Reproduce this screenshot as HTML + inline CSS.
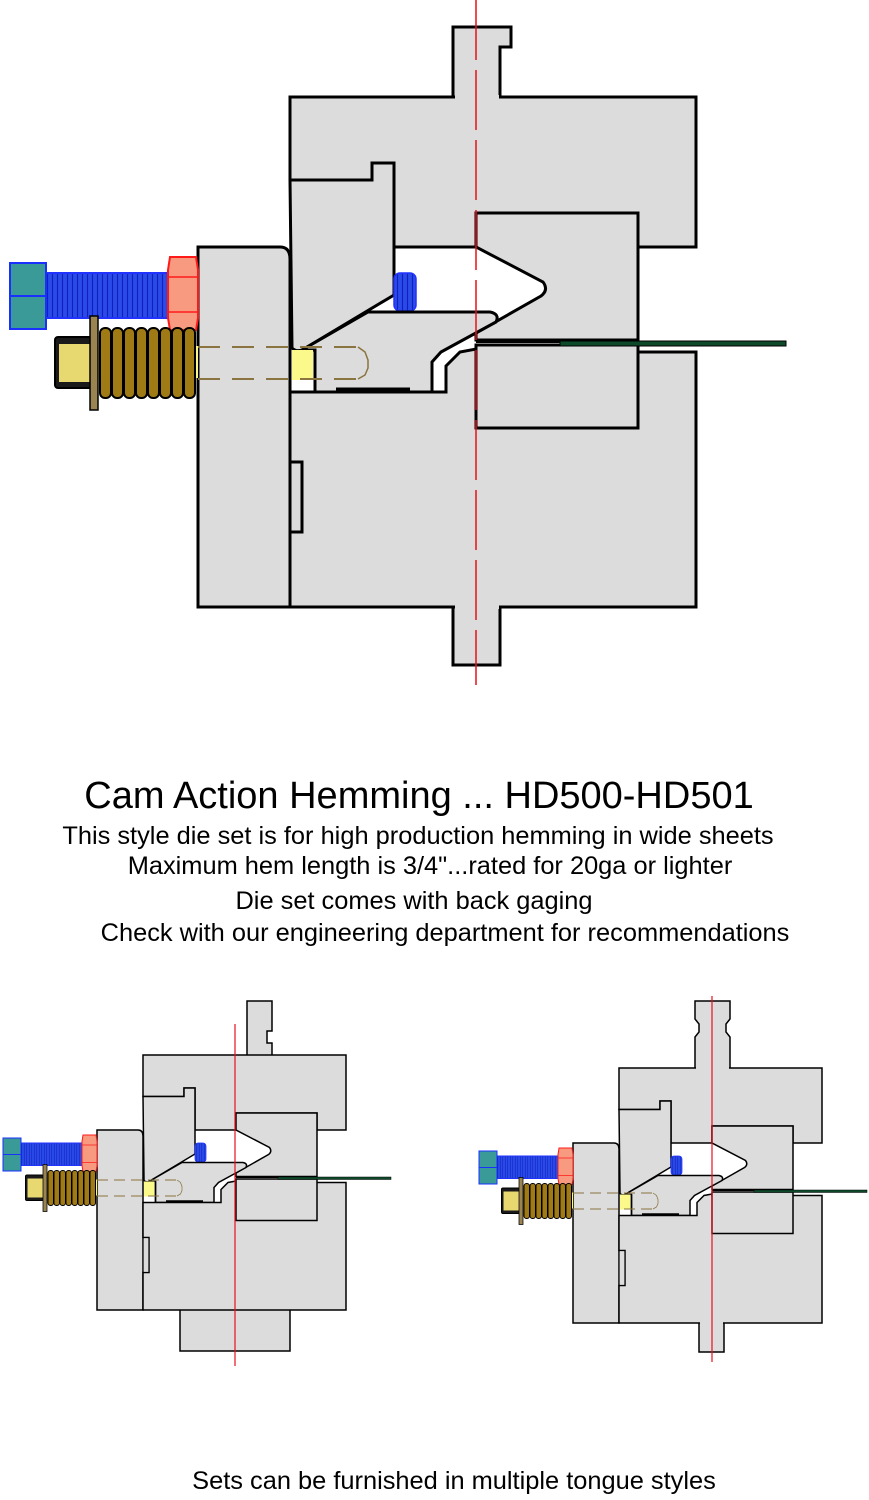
<!DOCTYPE html>
<html><head><meta charset="utf-8"><style>
body{margin:0;background:#fff;}
svg{display:block}
text{font-family:"Liberation Sans",Arial,sans-serif;fill:#000}
</style></head><body>
<svg width="869" height="1500" viewBox="0 0 869 1500" xmlns="http://www.w3.org/2000/svg">
<defs>
<pattern id="thr" width="5" height="60" patternUnits="userSpaceOnUse">
<rect width="5" height="60" fill="#2a4be8"/>
<line x1="2.5" y1="0" x2="2.5" y2="60" stroke="#1020c0" stroke-width="1.2"/>
</pattern>
<g id="die" stroke="#000" stroke-width="3" stroke-linejoin="miter">
<path d="M198,247 L280,247 Q290,247 290,259 L290,607 L198,607 Z" fill="#dcdcdc"/>
<path d="M290,97 L696,97 L696,247 L638,247 L638,213 L476,213 L476,247 L394,247 L394,163 L372,163 L372,180 L290,180 Z" fill="#dcdcdc"/>
<path d="M290,180 L372,180 L372,163 L394,163 L394,295 L302,350 Q296,352 292,348 L290,180 Z" fill="#dcdcdc"/>
<rect x="394" y="273" width="22" height="38" rx="6" fill="url(#thr)" stroke="#2233ff" stroke-width="1.5"/>
<path d="M476,213 L638,213 L638,340 L476,340 L476,333 L541,296 Q549,290 543,282 L476,247 Z" fill="#dcdcdc"/>
<path d="M368,312 L490,312 Q500,314 496,322 L441,352 L432,362 L432,392 L315,392 L315,350 L302,350 Z" fill="#dcdcdc"/>
<path d="M290,392 L446,392 L446,366 L460,352 L476,349 L476,352 L638,352 L696,352 L696,607 L290,607 L290,532 L302,532 L302,462 L290,462 Z" fill="#dcdcdc"/>
<rect x="291.5" y="463.5" width="9" height="67" fill="#dcdcdc" stroke="none"/>
<rect x="476" y="345" width="162" height="83" fill="#dcdcdc"/>
<rect x="292" y="350" width="21" height="30" fill="#fbf98a" stroke="none"/>
<line x1="315" y1="350" x2="315" y2="392" stroke-width="3"/>
<line x1="336" y1="390" x2="410" y2="390" stroke-width="5"/>
<line x1="476" y1="342" x2="560" y2="342" stroke-width="2"/>
<rect x="560" y="341" width="226" height="5" fill="#0d4a2a" stroke="#000" stroke-width="1"/>
<rect x="46" y="273" width="122" height="45" fill="url(#thr)" stroke="#2233ff" stroke-width="2"/>
<path d="M10,263 L46,263 L46,329 L10,329 Z" fill="#3a9a98" stroke="#1a30ff" stroke-width="2"/>
<line x1="10" y1="296" x2="46" y2="296" stroke="#1a30ff" stroke-width="2"/>
<path d="M170,257 L196,257 L198,270 L198,318 L196,330 L170,330 L168,318 L168,270 Z" fill="#f89a80" stroke="#ff1a1a" stroke-width="2"/>
<line x1="168" y1="277" x2="198" y2="277" stroke="#ff1a1a" stroke-width="1.5"/>
<line x1="168" y1="312" x2="198" y2="312" stroke="#ff1a1a" stroke-width="1.5"/>
<rect x="55" y="337" width="37" height="51" rx="3" fill="#1a1a1a" stroke="#000" stroke-width="2"/>
<rect x="59" y="344" width="33" height="38" fill="#e8d870" stroke="none"/>
<rect x="92" y="346" width="106" height="32" fill="#fbf98a" stroke="none"/>
<g fill="#a07a14" stroke="#000" stroke-width="2">
<rect x="100" y="328" width="11" height="70" rx="5"/>
<rect x="112" y="328" width="11" height="70" rx="5"/>
<rect x="124" y="328" width="11" height="70" rx="5"/>
<rect x="136" y="328" width="11" height="70" rx="5"/>
<rect x="148" y="328" width="11" height="70" rx="5"/>
<rect x="160" y="328" width="11" height="70" rx="5"/>
<rect x="172" y="328" width="11" height="70" rx="5"/>
<rect x="184" y="328" width="11" height="70" rx="5"/>
</g>
<rect x="90" y="316" width="8" height="94" fill="#9a8450" stroke="#000" stroke-width="1.5"/>
<g stroke="#8a7440" stroke-width="2" fill="none" stroke-dasharray="22 12">
<line x1="198" y1="347" x2="360" y2="347"/>
<line x1="198" y1="379" x2="360" y2="379"/>
</g>
<path d="M358,347 L365,352 L368,360 L368,368 L365,375 L358,379" stroke="#8a7440" stroke-width="1.5" fill="none"/>
</g>
</defs>

<path d="M453,30 L453,27 L511,27 L511,47 L500,47 L500,110 L453,110 Z" fill="#dcdcdc" stroke="#000" stroke-width="3"/>
<path d="M453,590 L500,590 L500,665 L453,665 Z" fill="#dcdcdc" stroke="#000" stroke-width="3"/>
<use href="#die"/>
<rect x="455" y="95" width="44" height="5" fill="#dcdcdc"/>
<rect x="455" y="604" width="44" height="5" fill="#dcdcdc"/>
<line x1="476" y1="0" x2="476" y2="685" stroke="#e8101a" stroke-width="1.5" stroke-dasharray="60 10"/>

<text x="419" y="808" font-size="38" text-anchor="middle">Cam Action Hemming ... HD500-HD501</text>
<text x="418" y="844" font-size="25.4" text-anchor="middle">This style die set is for high production hemming in wide sheets</text>
<text x="430" y="874" font-size="25.4" text-anchor="middle">Maximum hem length is 3/4"...rated for 20ga or lighter</text>
<text x="414" y="909" font-size="25.4" text-anchor="middle">Die set comes with back gaging</text>
<text x="445" y="941" font-size="25.4" text-anchor="middle">Check with our engineering department for recommendations</text>
<text x="454" y="1489" font-size="25.4" text-anchor="middle">Sets can be furnished in multiple tongue styles</text>

<path d="M247,1057 L247,1001 L272,1001 L272,1031 L267,1031 L267,1043 L272,1043 L272,1057" fill="#dcdcdc" stroke="#000" stroke-width="1.5"/>
<rect x="180" y="1304" width="110" height="47" fill="#dcdcdc" stroke="#000" stroke-width="1.5"/>
<g transform="translate(-2,1006.5) scale(0.5)"><use href="#die"/></g>
<line x1="235" y1="1024" x2="235" y2="1366" stroke="#e8101a" stroke-width="1.2"/>

<path d="M695,1069 L695,1037 L699,1032 L699,1024 L695,1019 L695,1001 L730,1001 L730,1019 L726,1024 L726,1032 L730,1037 L730,1069" fill="#dcdcdc" stroke="#000" stroke-width="1.5"/>
<path d="M699,1322 L699,1352 L724,1352 L724,1322" fill="#dcdcdc" stroke="#000" stroke-width="1.5"/>
<g transform="translate(474,1019.5) scale(0.5)"><use href="#die"/></g>
<rect x="696" y="1067" width="33" height="3" fill="#dcdcdc"/>
<rect x="700" y="1321" width="23" height="3" fill="#dcdcdc"/>
<line x1="712" y1="996" x2="712" y2="1362" stroke="#e8101a" stroke-width="1.2"/>
</svg>
</body></html>
